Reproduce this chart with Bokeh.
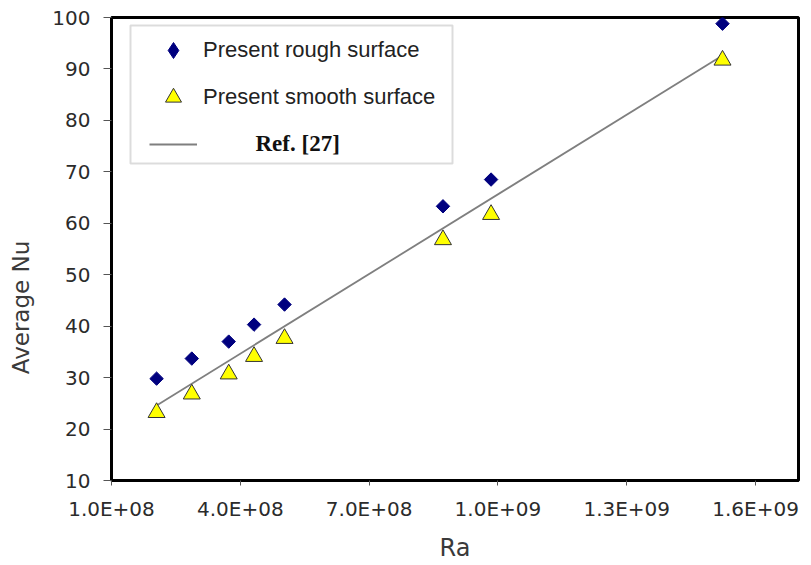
from bokeh.plotting import figure
from bokeh.models import (Range1d, FixedTicker, CustomJSTickFormatter, Legend, LegendItem,
                          BoxAnnotation, Label, ColumnDataSource)
from bokeh.embed import file_html
from bokeh.resources import INLINE
import math

# ---- data ----
ra = [2.05e8, 2.87e8, 3.73e8, 4.32e8, 5.03e8, 8.72e8, 9.84e8, 1.523e9]
nu_rough = [29.8, 33.7, 37.0, 40.3, 44.2, 63.3, 68.5, 98.8]
nu_smooth = [23.2, 26.8, 30.7, 34.1, 37.6, 56.8, 61.7, 91.7]
ref_ra = [2.05e8, 1.523e9]
ref_nu = [24.6, 92.6]

x_ticks = [1.0e8, 4.0e8, 7.0e8, 1.0e9, 1.3e9, 1.6e9]
x_tick_labels = ["1.0E+08", "4.0E+08", "7.0E+08", "1.0E+09", "1.3E+09", "1.6E+09"]
y_ticks = [10, 20, 30, 40, 50, 60, 70, 80, 90, 100]

labels = ["Present rough surface", "Present smooth surface", "Ref. [27]"]
x_title = "Ra"
y_title = "Average Nu"

p = figure(width=811, height=565, output_backend="svg", toolbar_location=None,
           x_range=Range1d(1.0e8, 1.7e9), y_range=Range1d(10, 100),
           min_border_left=111, min_border_right=13, min_border_top=17, min_border_bottom=85,
           background_fill_color="white", border_fill_color="white")

p.xgrid.visible = False
p.ygrid.visible = False
p.outline_line_color = "black"
p.outline_line_width = 3

# axes
for ax in (p.xaxis[0], p.yaxis[0]):
    ax.axis_line_color = "black"
    ax.axis_line_width = 3
    ax.major_tick_line_color = "#555555"
    ax.major_tick_line_width = 1
    ax.major_tick_in = 0
    ax.minor_tick_line_color = None
    ax.major_label_text_font = "DejaVu Sans"
    ax.major_label_text_font_size = "20px"
    ax.major_label_text_color = "#2b2b2b"
    ax.axis_label_text_font = "DejaVu Sans"
    ax.axis_label_text_font_style = "normal"
    ax.axis_label_text_color = "#3a3a3a"

p.xaxis.ticker = FixedTicker(ticks=x_ticks)
p.yaxis.ticker = FixedTicker(ticks=y_ticks)
p.xaxis.formatter = CustomJSTickFormatter(args=dict(vals=x_ticks, labs=x_tick_labels), code="""
const i = vals.findIndex(v => Math.abs(v - tick) < 1);
return i >= 0 ? labs[i] : "";
""")
p.xaxis.major_tick_out = 5
p.yaxis.major_tick_out = 8
p.xaxis.major_label_standoff = 11
p.yaxis.major_label_standoff = 13

# axis titles; the y title sits below the frame centre in the reference,
# so it is padded with trailing non-breaking spaces
p.xaxis.axis_label = x_title
p.yaxis.axis_label = y_title + "\u00a0" * 16
p.xaxis.axis_label_text_font_size = "24px"
p.yaxis.axis_label_text_font_size = "23px"
p.xaxis.axis_label_standoff = 10
p.yaxis.axis_label_standoff = 15

# reference line
ref_src = ColumnDataSource(dict(x=ref_ra, y=ref_nu))
r_line = p.line("x", "y", source=ref_src, line_color="#7f7f7f", line_width=1.8)

# data
r_rough = p.scatter(ra, nu_rough, marker="square", angle=math.pi / 4, size=9.5,
                    fill_color="#00007f", line_color="#00007f")
r_smooth = p.scatter(ra, nu_smooth, marker="triangle", size=17,
                     fill_color="#ffff00", line_color="#333333", line_width=1)

# legend-only renderer for the diamond symbol (NaN position: never drawn in the plot)
r_rough_leg = p.scatter([float("nan")], [float("nan")], marker="diamond", size=14,
                        fill_color="#00007f", line_color="#00007f")

# legend frame
box = BoxAnnotation(left=19, right=341, top=455, bottom=317,
                    left_units="screen", right_units="screen",
                    top_units="screen", bottom_units="screen",
                    fill_color="white", fill_alpha=1.0,
                    line_color="#8c8c8c", line_width=2, level="annotation")
p.add_layout(box)

legend = Legend(items=[LegendItem(label=labels[0], renderers=[r_rough_leg]),
                       LegendItem(label=labels[1], renderers=[r_smooth]),
                       LegendItem(label=" ", renderers=[r_line])],
                location=(35, 313), orientation="vertical",
                glyph_height=40, glyph_width=48, label_height=40, spacing=7,
                padding=3, margin=0, label_standoff=6,
                label_text_font="Liberation Sans", label_text_font_size="22px",
                label_text_color="#222222",
                background_fill_alpha=0.0, border_line_alpha=0.0)
p.add_layout(legend)

ref_label = Label(x=144, y=337, x_units="screen", y_units="screen", text=labels[2],
                  text_font="Liberation Serif", text_font_style="bold",
                  text_font_size="23px", text_color="#111111", text_baseline="middle")
p.add_layout(ref_label)

open("out.html", "w").write(file_html(p, INLINE))
